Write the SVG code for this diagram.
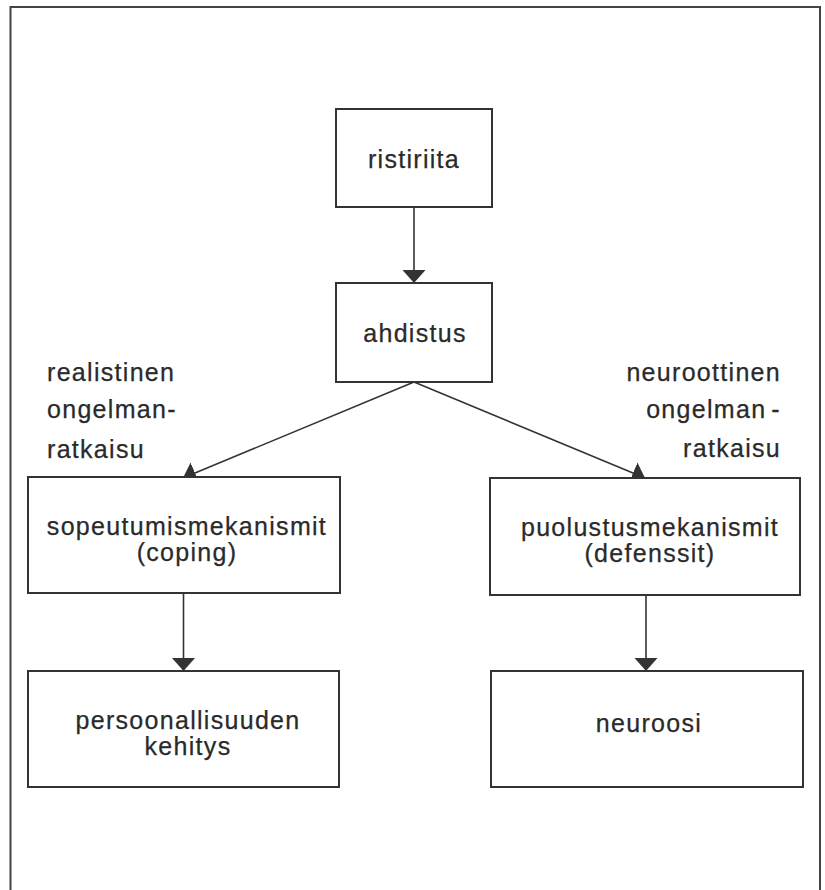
<svg xmlns="http://www.w3.org/2000/svg" width="825" height="890" viewBox="0 0 825 890">
<style>
.box{fill:#fff;stroke:#333;stroke-width:2}
.t{font-family:"Liberation Sans",Arial,sans-serif;font-size:25px;letter-spacing:1.3px;fill:#2a2a2a;stroke:#2a2a2a;stroke-width:0.25}
.c{text-anchor:middle}
.e{text-anchor:end}
.ln{stroke:#333;stroke-width:1.6;fill:none}
</style>
<defs>
<marker id="ah" markerUnits="userSpaceOnUse" markerWidth="14" markerHeight="24" refX="13" refY="11.5" orient="auto" viewBox="0 0 14 24">
<path d="M0,0 L13,11.5 L0,23 Z" fill="#333"/>
</marker>
</defs>
<rect x="10.5" y="7" width="809.5" height="890" fill="none" stroke="#444" stroke-width="2"/>
<g id="connectors">
<line class="ln" x1="414" y1="207" x2="414" y2="283" marker-end="url(#ah)"/>
<line class="ln" x1="414" y1="382" x2="183" y2="478" marker-end="url(#ah)"/>
<line class="ln" x1="414" y1="382" x2="645" y2="478" marker-end="url(#ah)"/>
<line class="ln" x1="183.5" y1="594" x2="183.5" y2="671" marker-end="url(#ah)"/>
<line class="ln" x1="646" y1="595" x2="646" y2="671" marker-end="url(#ah)"/>
</g>
<g id="ristiriita">
<rect class="box" x="336" y="109" width="156" height="98"/>
<text class="t c" x="414" y="168">ristiriita</text>
</g>
<g id="ahdistus">
<rect class="box" x="336" y="283" width="156" height="99"/>
<text class="t c" x="415" y="342">ahdistus</text>
</g>
<g id="label-left">
<text class="t" x="47" y="381">realistinen</text>
<text class="t" x="47" y="418">ongelman-</text>
<text class="t" x="47" y="458">ratkaisu</text>
</g>
<g id="label-right">
<text class="t e" x="781" y="381">neuroottinen</text>
<text class="t e" x="781" y="418">ongelman<tspan dx="5">-</tspan></text>
<text class="t e" x="781" y="457">ratkaisu</text>
</g>
<g id="sopeutumismekanismit">
<rect class="box" x="28" y="477" width="312" height="116"/>
<text class="t c" x="187" y="535">sopeutumismekanismit</text>
<text class="t c" x="187" y="561">(coping)</text>
</g>
<g id="puolustusmekanismit">
<rect class="box" x="490" y="478" width="310" height="117"/>
<text class="t c" x="650" y="536">puolustusmekanismit</text>
<text class="t c" x="650" y="562">(defenssit)</text>
</g>
<g id="persoonallisuuden">
<rect class="box" x="28" y="671" width="311" height="116"/>
<text class="t c" x="188" y="729">persoonallisuuden</text>
<text class="t c" x="188" y="755">kehitys</text>
</g>
<g id="neuroosi">
<rect class="box" x="491" y="671" width="312" height="116"/>
<text class="t c" x="649" y="732">neuroosi</text>
</g>
</svg>
